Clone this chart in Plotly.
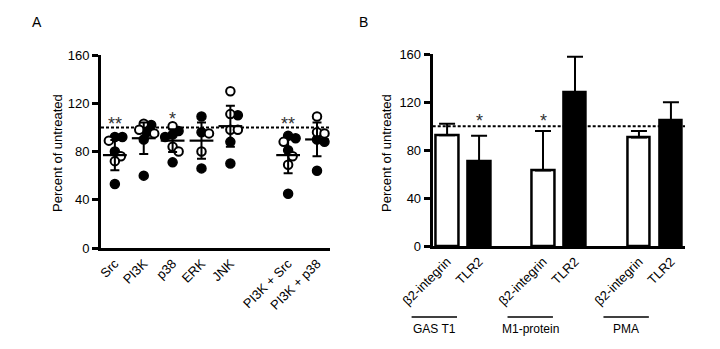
import plotly.graph_objects as go

# ---------------- data ----------------
# Panel A: individual points (filled = one donor set, open = other)
a_names = ["Src", "PI3K", "p38", "ERK", "JNK", "PI3K + Src", "PI3K + p38"]
a_slots = [0, 1, 2, 3, 4, 6, 7]
a_filled = [
    [92, 92, 80, 53],
    [102, 96, 90, 60],
    [97, 94, 92, 71],
    [109, 96, 66],
    [110, 88, 70],
    [93, 91, 81, 45],
    [90, 88, 64],
]
a_open = [
    [89, 76, 72],
    [103, 98, 95],
    [101, 84, 80],
    [95, 80],
    [130, 111, 98, 98],
    [88, 76, 69],
    [109, 96, 95],
]
a_mean = [77, 91, 89, 89, 101, 77, 90]
a_sd = [12.5, 13, 9.5, 15, 17, 15, 14]
a_stars = ["**", "", "*", "", "", "**", ""]
a_star_y = [103, 0, 107, 0, 0, 103, 0]

# Panel B: bars
b_groups = ["GAS T1", "M1-protein", "PMA"]
b_beta2_mean = [92.5, 63, 90.5]
b_beta2_sd = [9.5, 33, 5.5]
b_tlr2_mean = [71, 128, 105]
b_tlr2_sd = [21, 30, 15]
b_beta2_stars = ["", "*", ""]
b_tlr2_stars = ["*", "", ""]
b_labels = ["β2-integrin", "TLR2"]

# ---------------- layout geometry ----------------
W, H = 720, 349
FONT = "Liberation Sans, Arial, Helvetica, sans-serif"
A_dom_x = [101 / W, 330 / W]
A_dom_y = [(H - 248) / H, (H - 55) / H]
A_rng = [-0.48, 7.45]
B_dom_x = [432.7 / W, 685 / W]
B_dom_y = [(H - 246) / H, (H - 54.3) / H]
B_rng = [-0.45, 7.44]


def swarm(vals, sx, sy, d=7.0, step=1.5):
    """simple beeswarm: returns horizontal offsets (axis units)."""
    order = sorted(range(len(vals)), key=lambda i: -vals[i])
    placed = []
    offs = [0.0] * len(vals)
    for i in order:
        y = vals[i] * sy
        k = 0
        while True:
            cands = [0.0] if k == 0 else [k * step, -k * step]
            ok = None
            for c in cands:
                if all((c - px) ** 2 + (y - py) ** 2 >= d * d for px, py in placed):
                    ok = c
                    break
            if ok is not None:
                placed.append((ok, y))
                offs[i] = ok / sx
                break
            k += 1
    return offs


A_sx = (A_dom_x[1] - A_dom_x[0]) * W / (A_rng[1] - A_rng[0])
A_sy = (A_dom_y[1] - A_dom_y[0]) * H / 160.0

fig = go.Figure()

fx, fy, ox, oy = [], [], [], []
for slot, fv, ov in zip(a_slots, a_filled, a_open):
    allv = fv + ov
    offs = swarm(allv, A_sx, A_sy)
    for j, v in enumerate(allv):
        if j < len(fv):
            fx.append(slot + offs[j]); fy.append(v)
        else:
            ox.append(slot + offs[j]); oy.append(v)

fig.add_trace(go.Scatter(x=fx, y=fy, mode="markers", xaxis="x", yaxis="y",
                         marker=dict(size=9, color="black", line=dict(color="black", width=1.5)),
                         showlegend=False, hoverinfo="y"))
fig.add_trace(go.Scatter(x=ox, y=oy, mode="markers", xaxis="x", yaxis="y",
                         marker=dict(size=8.5, color="white", line=dict(color="black", width=2)),
                         showlegend=False, hoverinfo="y"))
# mean +/- SD
fig.add_trace(go.Scatter(x=a_slots, y=a_mean, mode="markers", xaxis="x", yaxis="y",
                         marker=dict(symbol="line-ew", size=17, line=dict(color="black", width=2.2)),
                         error_y=dict(type="data", array=a_sd, color="black", thickness=2, width=4.5),
                         showlegend=False, hoverinfo="y"))

# Panel B bars
b_pos_beta = [3 * i for i in range(len(b_groups))]
b_pos_tlr = [3 * i + 1 for i in range(len(b_groups))]
fig.add_trace(go.Bar(x=b_pos_beta, y=b_beta2_mean, width=0.7, xaxis="x2", yaxis="y2",
                     marker=dict(color="white", line=dict(color="black", width=2.5)),
                     error_y=dict(type="data", symmetric=False, array=b_beta2_sd,
                                  arrayminus=[0] * 3, color="black", thickness=2, width=8),
                     showlegend=False))
fig.add_trace(go.Bar(x=b_pos_tlr, y=b_tlr2_mean, width=0.7, xaxis="x2", yaxis="y2",
                     marker=dict(color="black", line=dict(color="black", width=2.5)),
                     error_y=dict(type="data", symmetric=False, array=b_tlr2_sd,
                                  arrayminus=[0] * 3, color="black", thickness=2, width=8),
                     showlegend=False))

b_tickvals, b_ticktext = [], []
for i in range(len(b_groups)):
    b_tickvals += [b_pos_beta[i], b_pos_tlr[i]]
    b_ticktext += b_labels

yax = dict(range=[0, 160], tickvals=[0, 40, 80, 120, 160], showline=True, linewidth=3,
           linecolor="black", ticks="outside", ticklen=6, tickwidth=2.5, tickcolor="black",
           showgrid=False, zeroline=False, automargin=False,
           tickfont=dict(size=13, color="black", family=FONT))
xax = dict(showline=True, linewidth=3, linecolor="black", ticks="", showgrid=False,
           zeroline=False, tickangle=-45, automargin=False,
           tickfont=dict(size=13, color="black", family=FONT))

fig.update_layout(
    width=W, height=H, margin=dict(l=0, r=0, t=0, b=0, pad=0, autoexpand=False),
    paper_bgcolor="white", plot_bgcolor="white", showlegend=False,
    font=dict(family=FONT, color="black"),
    bargap=0,
    xaxis=dict(xax, domain=A_dom_x, range=A_rng, tickvals=a_slots, ticktext=a_names, anchor="y"),
    yaxis=dict(yax, domain=A_dom_y, anchor="x"),
    xaxis2=dict(xax, domain=B_dom_x, range=B_rng, tickvals=b_tickvals, ticktext=b_ticktext, anchor="y2"),
    yaxis2=dict(yax, domain=B_dom_y, anchor="x2"),
)

shapes = []
for xr, yr in (("x domain", "y"), ("x2 domain", "y2")):
    shapes.append(dict(type="line", xref=xr, yref=yr, x0=0, x1=1, y0=100, y1=100,
                       line=dict(color="black", width=2, dash="3px,2px"), layer="below"))

annotations = []
C = dict(xanchor="center", yanchor="middle", showarrow=False)
# stars
for slot, s, sy in zip(a_slots, a_stars, a_star_y):
    if s:
        annotations.append(dict(C, x=slot, y=sy, xref="x", yref="y", text=s,
                                font=dict(size=18, color="#333333")))
for pos, s in zip(b_pos_beta + b_pos_tlr, b_beta2_stars + b_tlr2_stars):
    if s:
        annotations.append(dict(C, x=pos, y=104, xref="x2", yref="y2", text=s,
                                font=dict(size=18, color="#333333")))


def b_paper_x(v):
    return B_dom_x[0] + (v - B_rng[0]) / (B_rng[1] - B_rng[0]) * (B_dom_x[1] - B_dom_x[0])


unit_b = (B_dom_x[1] - B_dom_x[0]) / (B_rng[1] - B_rng[0])
for i, g in enumerate(b_groups):
    c = b_paper_x(b_pos_beta[i] - 0.4)
    shapes.append(dict(type="line", xref="paper", yref="paper", x0=c - 0.71 * unit_b,
                       x1=c + 0.71 * unit_b, y0=(H - 317) / H, y1=(H - 317) / H,
                       line=dict(color="black", width=1.5)))
    annotations.append(dict(C, x=c, y=(H - 329) / H, xref="paper", yref="paper", text=g,
                            font=dict(size=12, color="black")))

# y-axis titles and panel letters
annotations.append(dict(C, x=57 / W, y=(H - 153) / H, xref="paper", yref="paper",
                        text="Percent of untreated", textangle=-90,
                        font=dict(size=13, color="black")))
annotations.append(dict(C, x=386 / W, y=(H - 153) / H, xref="paper", yref="paper",
                        text="Percent of untreated", textangle=-90,
                        font=dict(size=13, color="black")))
annotations.append(dict(C, x=37 / W, y=(H - 22) / H, xref="paper", yref="paper", text="A",
                        font=dict(size=14, color="black")))
annotations.append(dict(C, x=363 / W, y=(H - 22) / H, xref="paper", yref="paper", text="B",
                        font=dict(size=14, color="black")))

fig.update_layout(shapes=shapes, annotations=annotations)
fig.write_html("out.html")
